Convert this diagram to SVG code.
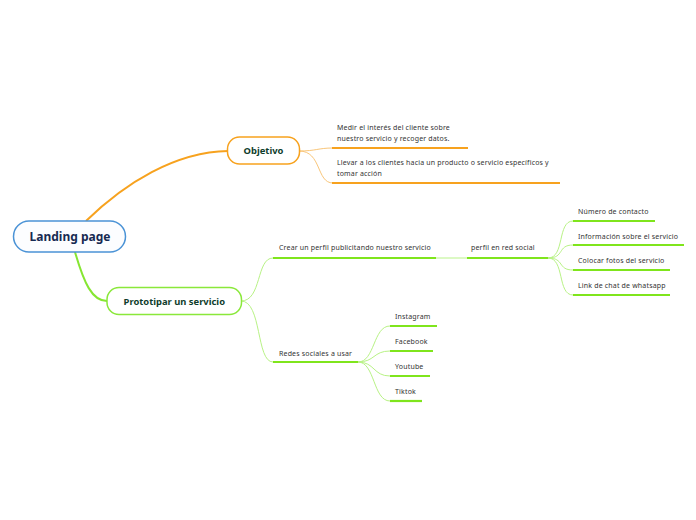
<svg xmlns="http://www.w3.org/2000/svg" width="696" height="520" viewBox="0 0 696 520">
<style>
.bg{fill:#ffffff}
.node{stroke-width:1.5}
.main{fill:#fcfdff;stroke:#4b93d6}
.obj{fill:#ffffff;stroke:#f7a21e}
.pro{fill:#ffffff;stroke:#8ae83a}
.t1{font-family:"Noto Sans","Open Sans",sans-serif;font-weight:bold;font-size:12px;fill:#172a52;text-anchor:middle}
.t2{font-family:"Noto Sans","Open Sans",sans-serif;font-weight:bold;font-size:9.4px;fill:#0f3d2c;text-anchor:middle}
.lbl{font-family:"Noto Sans","Open Sans",sans-serif;font-size:7px;letter-spacing:0.17px;fill:#333333}
.thickO{fill:none;stroke:#f7a21e;stroke-width:2}
.thickG{fill:none;stroke:#86e632;stroke-width:2}
.thinO{fill:none;stroke:#f9c67a;stroke-width:1}
.thinG{fill:none;stroke:#b8f285;stroke-width:1}
.ulO{fill:none;stroke:#f7a21e;stroke-width:2}
.ulG{fill:none;stroke:#7fe51c;stroke-width:2.2}
.ulF{fill:none;stroke:#dcf9c4;stroke-width:2}
</style>
<rect class="bg" x="0" y="0" width="696" height="520"/>
<g id="connectors">
<path class="thickO" d="M86,221 C125,183 175,152 228,151"/>
<path class="thickG" d="M75,252 C84,283 92,301 107,301"/>
<path class="thinO" d="M299,151 C316,151 318,148 333,148"/>
<path class="thinO" d="M299,151 C322,151 316,183 333,183"/>
<path class="thinG" d="M241,301 C262,301 256,258 273,258"/>
<path class="thinG" d="M241,301 C262,301 256,362 273,362"/>
<path class="thinG" d="M548,258 C565,258 557,221 573,221"/>
<path class="thinG" d="M548,258 C565,258 557,245 573,245"/>
<path class="thinG" d="M548,258 C565,258 557,270 573,270"/>
<path class="thinG" d="M548,258 C565,258 557,295 573,295"/>
<path class="thinG" d="M358,362 C375,362 373,326 390,326"/>
<path class="thinG" d="M358,362 C375,362 373,351 390,351"/>
<path class="thinG" d="M358,362 C375,362 373,376 390,376"/>
<path class="thinG" d="M358,362 C375,362 373,401 390,401"/>
<path class="ulF" d="M436,258 H467"/>
</g>
<g id="landing-page">
<rect class="node main" x="13.5" y="221" width="112" height="31" rx="15.5"/>
<text class="t1" x="70" y="240.5">Landing page</text>
</g>
<g id="objetivo">
<rect class="node obj" x="227.5" y="137" width="72" height="27" rx="12"/>
<text class="t2" x="263.5" y="154">Objetivo</text>
</g>
<g id="prototipar">
<rect class="node pro" x="107" y="287.5" width="134.5" height="27" rx="12"/>
<text class="t2" x="174.3" y="304.5">Prototipar un servicio</text>
</g>
<g id="medir">
<path class="ulO" d="M332,148 H468"/>
<text class="lbl" x="337" y="130">Medir el interés del cliente sobre</text>
<text class="lbl" x="337" y="141">nuestro servicio y recoger datos.</text>
</g>
<g id="llevar">
<path class="ulO" d="M332,183 H560"/>
<text class="lbl" x="337" y="165">Llevar  a los clientes hacia un producto o servicio específicos y</text>
<text class="lbl" x="337" y="176">tomar acción</text>
</g>
<g id="crear">
<path class="ulG" d="M273,258 H436"/>
<text class="lbl" x="279" y="250">Crear un perfil publicitando nuestro servicio</text>
</g>
<g id="perfil">
<path class="ulG" d="M467,258 H548"/>
<text class="lbl" x="471" y="250">perfil en red social</text>
</g>
<g id="numero">
<path class="ulG" d="M573,221 H655"/>
<text class="lbl" x="578" y="214">Número de contacto</text>
</g>
<g id="informacion">
<path class="ulG" d="M573,245 H684"/>
<text class="lbl" x="578" y="238.5">Información sobre el servicio</text>
</g>
<g id="colocar">
<path class="ulG" d="M573,270 H670"/>
<text class="lbl" x="578" y="263">Colocar fotos del servicio</text>
</g>
<g id="link">
<path class="ulG" d="M573,295 H670"/>
<text class="lbl" x="578" y="288">Link de chat de whatsapp</text>
</g>
<g id="redes">
<path class="ulG" d="M273,362 H358"/>
<text class="lbl" x="279" y="356">Redes sociales a usar</text>
</g>
<g id="instagram">
<path class="ulG" d="M390,326 H437"/>
<text class="lbl" x="395" y="319">Instagram</text>
</g>
<g id="facebook">
<path class="ulG" d="M390,351 H433"/>
<text class="lbl" x="395" y="344">Facebook</text>
</g>
<g id="youtube">
<path class="ulG" d="M390,376 H430"/>
<text class="lbl" x="395" y="369">Youtube</text>
</g>
<g id="tiktok">
<path class="ulG" d="M390,401 H422"/>
<text class="lbl" x="395" y="394">Tiktok</text>
</g>
</svg>
